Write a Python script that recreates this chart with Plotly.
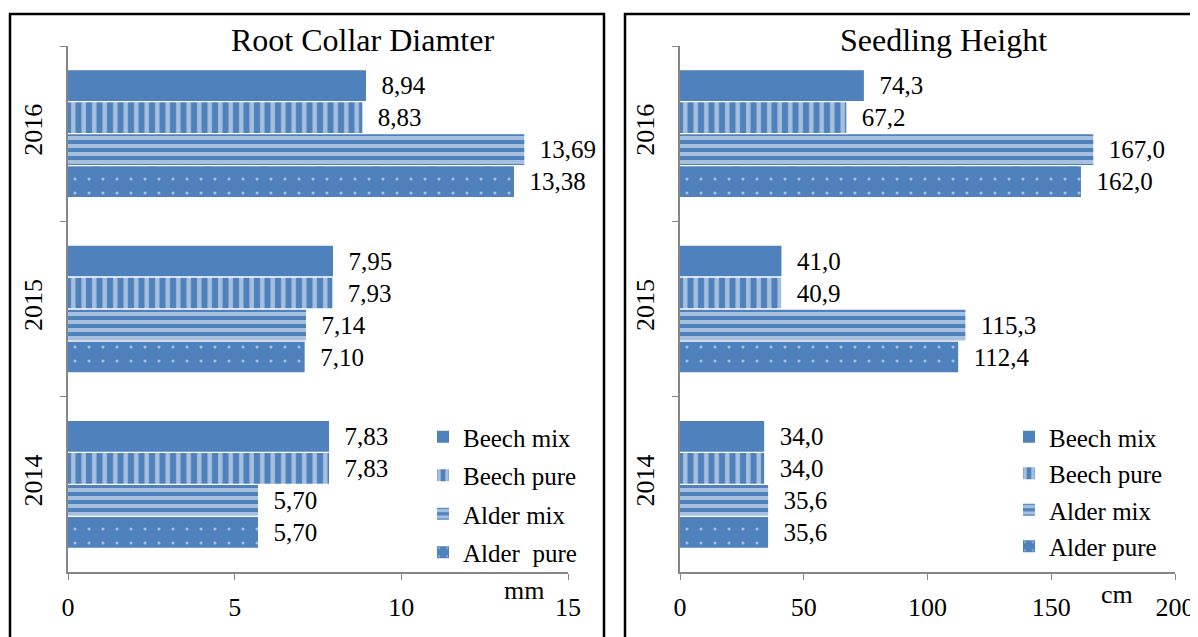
import plotly.graph_objects as go

years = ["2014", "2015", "2016"]
series = ["Beech mix", "Beech pure", "Alder mix", "Alder pure"]
legend_names_left = ["Beech mix", "Beech pure", "Alder mix", "Alder  pure"]
rcd = {
    "Beech mix": [7.83, 7.95, 8.94],
    "Beech pure": [7.83, 7.93, 8.83],
    "Alder mix": [5.70, 7.14, 13.69],
    "Alder pure": [5.70, 7.10, 13.38],
}
height = {
    "Beech mix": [34.0, 41.0, 74.3],
    "Beech pure": [34.0, 40.9, 67.2],
    "Alder mix": [35.6, 115.3, 167.0],
    "Alder pure": [35.6, 112.4, 162.0],
}

BLUE = "#4F81BD"
FONT = "Liberation Serif"
OFF = 8  # page body margin
W, H = 1198 - OFF, 637 - OFF


def PX(x):
    return (x - OFF) / W


def PY(y):
    return (H - (y - OFF)) / H


patterns = {
    "Beech mix": dict(shape=""),
    "Beech pure": dict(shape="|", fgcolor="white", bgcolor=BLUE, size=10.5, solidity=0.42, fillmode="overlay"),
    "Alder mix": dict(shape="-", fgcolor="white", bgcolor=BLUE, size=8, solidity=0.5, fillmode="overlay"),
    "Alder pure": dict(shape=".", fgcolor="white", bgcolor=BLUE, size=14, solidity=0.04, fillmode="overlay"),
}


def fmt(v, d):
    return ("{:." + str(d) + "f}").format(v).replace(".", ",")


LBL = 25
TICK = 26
LEG = 25

fig = go.Figure()
for name, lname in zip(series, legend_names_left):
    fig.add_trace(go.Bar(
        y=years, x=rcd[name], orientation="h", name=lname,
        marker=dict(color=BLUE, line=dict(width=0), pattern=patterns[name]),
        text=["\u00a0\u00a0" + fmt(v, 2) for v in rcd[name]],
        textposition="outside", cliponaxis=False,
        textfont=dict(family=FONT, size=LBL, color="black"),
        xaxis="x", yaxis="y", legend="legend", legendgroup="L" + name,
    ))
for name in series:
    fig.add_trace(go.Bar(
        y=years, x=height[name], orientation="h", name=name,
        marker=dict(color=BLUE, line=dict(width=0), pattern=patterns[name]),
        text=["\u00a0\u00a0" + fmt(v, 1) for v in height[name]],
        textposition="outside", cliponaxis=False,
        textfont=dict(family=FONT, size=LBL, color="black"),
        xaxis="x2", yaxis="y2", legend="legend2", legendgroup="R" + name,
    ))

axis_common = dict(
    showgrid=False, zeroline=False, showline=True, linecolor="#868686", linewidth=1.5,
    ticks="outside", ticklen=6, tickcolor="#868686", automargin=False,
    ticklabeloverflow="allow",
    tickfont=dict(family=FONT, size=TICK, color="black"),
)
ycat = dict(type="category", categoryorder="array", categoryarray=years[::-1],
            autorange="reversed", tickson="boundaries", tickangle=-90,
            ticklabelstandoff=14)

fig.update_layout(
    width=W, height=H,
    margin=dict(l=0, r=0, t=0, b=0, autoexpand=False),
    paper_bgcolor="white", plot_bgcolor="white",
    barmode="group", bargap=0.27, bargroupgap=0.04,
    showlegend=True,
    xaxis=dict(domain=[PX(68), PX(568)], range=[0, 15], dtick=5, anchor="y",
               ticklabelstandoff=5, **axis_common),
    yaxis=dict(domain=[PY(572), PY(46)], anchor="x", **ycat, **axis_common),
    xaxis2=dict(domain=[PX(680), PX(1175)], range=[0, 200], dtick=50, anchor="y2",
                ticklabelstandoff=5, **axis_common),
    yaxis2=dict(domain=[PY(572), PY(46)], anchor="x2", **ycat, **axis_common),
    legend=dict(x=PX(423), y=PY(414), xanchor="left", yanchor="top",
                traceorder="grouped", tracegroupgap=3,
                font=dict(family=FONT, size=LEG, color="black"),
                bgcolor="rgba(255,255,255,0)", itemwidth=30),
    legend2=dict(x=PX(1009), y=PY(414), xanchor="left", yanchor="top",
                 traceorder="grouped", tracegroupgap=1,
                 font=dict(family=FONT, size=LEG, color="black"),
                 bgcolor="rgba(255,255,255,0)", itemwidth=30),
    shapes=[
        dict(type="rect", xref="paper", yref="paper", x0=PX(10), x1=PX(604),
             y0=-0.05, y1=PY(14), line=dict(color="black", width=2.5)),
        dict(type="rect", xref="paper", yref="paper", x0=PX(625), x1=1.05,
             y0=-0.05, y1=PY(14), line=dict(color="black", width=2.5)),
    ],
    annotations=[
        dict(text="Root Collar Diamter", x=PX(362), y=PY(40), xref="paper", yref="paper",
             xanchor="center", yanchor="middle",
             showarrow=False, font=dict(family=FONT, size=32, color="black")),
        dict(text="Seedling Height", x=PX(943), y=PY(40), xref="paper", yref="paper",
             xanchor="center", yanchor="middle",
             showarrow=False, font=dict(family=FONT, size=32, color="black")),
        dict(text="mm", x=PX(524), y=PY(590), xref="paper", yref="paper",
             xanchor="center", yanchor="middle",
             showarrow=False, font=dict(family=FONT, size=26, color="black")),
        dict(text="cm", x=PX(1117), y=PY(594), xref="paper", yref="paper",
             xanchor="center", yanchor="middle",
             showarrow=False, font=dict(family=FONT, size=26, color="black")),
    ],
)

fig.write_html("out.html")
